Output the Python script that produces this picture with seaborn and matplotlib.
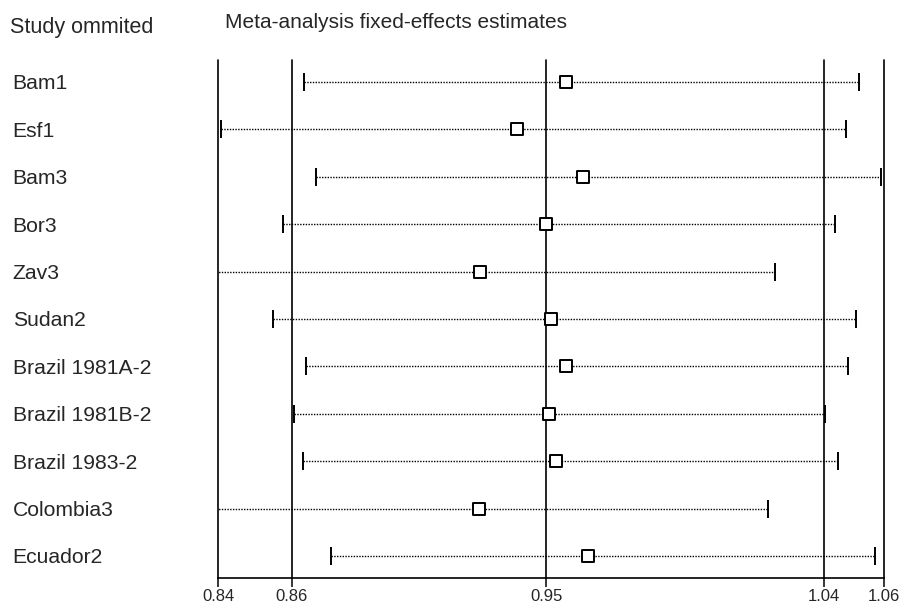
import matplotlib
matplotlib.use("Agg")
import matplotlib.pyplot as plt
import matplotlib.transforms as mtransforms
import seaborn as sns
import pandas as pd

# leave-one-out estimates
studies = ["Bam1", "Esf1", "Bam3", "Bor3", "Zav3", "Sudan2", "Brazil 1981A-2",
           "Brazil 1981B-2", "Brazil 1983-2", "Colombia3", "Ecuador2"]
estimate = [0.9550, 0.9387, 0.9607, 0.9484, 0.9266, 0.9499, 0.9550, 0.9495, 0.9517, 0.9263, 0.9623]
lower = [0.8683, 0.8410, 0.8725, 0.8614, 0.8300, 0.8581, 0.8689, 0.8650, 0.8682, 0.8300, 0.8772]
upper = [1.0518, 1.0475, 1.0590, 1.0439, 1.0239, 1.0507, 1.0480, 1.0406, 1.0448, 1.0218, 1.0570]
tick_values = [0.84, 0.8644, 0.9484, 1.0402, 1.06]
tick_labels = ["0.84", "0.86", "0.95", "1.04", "1.06"]

df = pd.DataFrame({"study": studies, "estimate": estimate, "lower": lower, "upper": upper})
df["row"] = range(len(df))

sns.set_style("white")
plt.rcParams["font.family"] = ["Liberation Sans", "DejaVu Sans"]

fig = plt.figure(figsize=(9.1, 6.06), dpi=100)
ax = fig.add_axes([0.2396, 0.0462, 0.7318, 0.8548])

# reference lines at each tick
for v in tick_values:
    ax.axvline(v, color="black", lw=1.2, clip_on=False, zorder=1)

# dotted confidence intervals with end caps
ax.hlines(df["row"], df["lower"], df["upper"], color="black", lw=1.0,
          linestyle=(0, (1, 1)), zorder=2)
ax.plot(df["lower"], df["row"], ls="none", marker="|", ms=13, mew=1.4, color="black", zorder=2)
ax.plot(df["upper"], df["row"], ls="none", marker="|", ms=13, mew=1.4, color="black", zorder=2)

sns.scatterplot(data=df, x="estimate", y="row", marker="s", s=75, color="white",
                edgecolor="black", linewidth=1.4, zorder=3, ax=ax, legend=False)

ax.set_xlim(0.84, 1.06)
ax.set_ylim(10.464, -0.464)
ax.set_xticks(tick_values)
ax.set_xticklabels(tick_labels, fontsize=12)
ax.set_yticks([])
ax.set_xlabel("")
ax.set_ylabel("")
ax.tick_params(axis="x", direction="out", length=6.5, width=1.1, color="black", pad=1.5, bottom=True)
for side in ["top", "left", "right"]:
    ax.spines[side].set_visible(False)
ax.spines["bottom"].set_color("black")
ax.spines["bottom"].set_linewidth(1.2)

# study labels on the left
trans = mtransforms.blended_transform_factory(fig.transFigure, ax.transData)
for r, name in zip(df["row"], df["study"]):
    ax.text(0.014, r + 0.04, name, transform=trans, ha="left", va="center", fontsize=15.2)

fig.text(0.011, 1 - 27 / 606, "Study ommited", ha="left", va="center", fontsize=15.5)
fig.text(0.247, 1 - 22 / 606, "Meta-analysis fixed-effects estimates", ha="left", va="center",
         fontsize=15)

fig.savefig("out.png", dpi=100)
